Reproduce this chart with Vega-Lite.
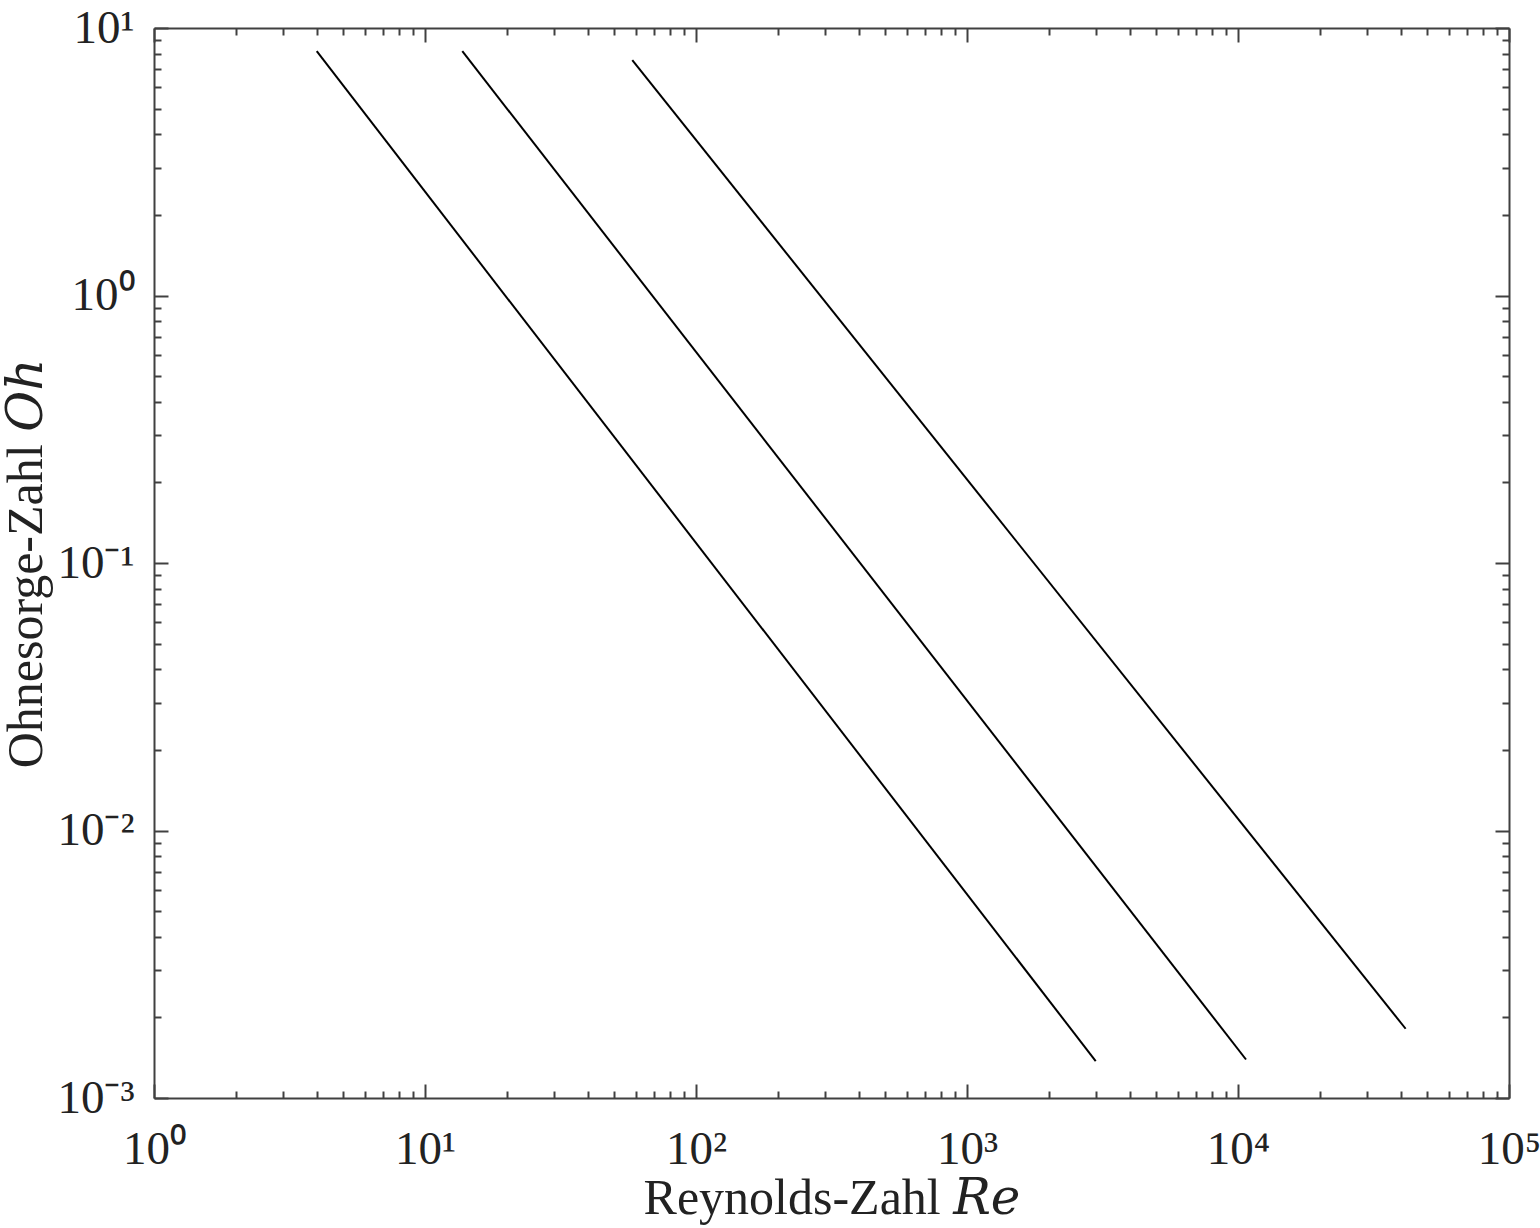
{
  "$schema": "https://vega.github.io/schema/vega-lite/v6.json",
  "autosize": "none",
  "width": 1355,
  "height": 1070,
  "padding": {"left": 154, "top": 28, "right": 31, "bottom": 130},
  "background": "white",
  "data": {
    "values": [
      {"series": "A", "Re": 3.985, "Oh": 8.19},
      {"series": "A", "Re": 2985, "Oh": 0.001374},
      {"series": "B", "Re": 13.73, "Oh": 8.19},
      {"series": "B", "Re": 10703, "Oh": 0.001393},
      {"series": "C", "Re": 58.2, "Oh": 7.58},
      {"series": "C", "Re": 41550, "Oh": 0.001815}
    ]
  },
  "config": {
    "view": {"stroke": null},
    "axis": {
      "grid": false,
      "domainColor": "#404040",
      "domainWidth": 2,
      "tickColor": "#404040",
      "tickWidth": 2,
      "labelFont": "Liberation Serif",
      "labelFontSize": 47,
      "labelColor": "#222222",
      "titleFont": "Liberation Serif, DejaVu Serif",
      "titleFontSize": 50,
      "titleFontWeight": "normal",
      "titleColor": "#222222"
    }
  },
  "resolve": {"axis": {"x": "independent", "y": "independent"}},
  "layer": [
    {
      "mark": {"type": "line", "color": "black", "strokeWidth": 2},
      "encoding": {
        "detail": {"field": "series", "type": "nominal"},
        "x": {
          "field": "Re",
          "type": "quantitative",
          "scale": {"type": "log", "domain": [1, 100000], "nice": false},
          "axis": {
            "orient": "bottom",
            "title": "Reynolds-Zahl 𝑅𝑒",
            "titlePadding": -6,
            "values": [1,2,3,4,5,6,7,8,9,10,20,30,40,50,60,70,80,90,100,200,300,400,500,600,700,800,900,1000,2000,3000,4000,5000,6000,7000,8000,9000,10000,20000,30000,40000,50000,60000,70000,80000,90000,100000],
            "tickSize": {"condition": {"test": "indexof([1,10,100,1000,10000,100000], datum.value) >= 0", "value": -14}, "value": -7},
            "labelPadding": 42,
            "labelFlush": false,
            "labelOverlap": false,
            "labelExpr": "datum.value == 1 ? '10⁰' : datum.value == 10 ? '10¹' : datum.value == 100 ? '10²' : datum.value == 1000 ? '10³' : datum.value == 10000 ? '10⁴' : datum.value == 100000 ? '10⁵' : ''"
          }
        },
        "y": {
          "field": "Oh",
          "type": "quantitative",
          "scale": {"type": "log", "domain": [0.001, 10], "nice": false},
          "axis": {
            "orient": "left",
            "title": "Ohnesorge-Zahl 𝑂ℎ",
            "titlePadding": 5,
            "values": [0.001,0.002,0.003,0.004,0.005,0.006,0.007,0.008,0.009,0.01,0.02,0.03,0.04,0.05,0.06,0.07,0.08,0.09,0.1,0.2,0.3,0.4,0.5,0.6,0.7,0.8,0.9,1,2,3,4,5,6,7,8,9,10],
            "tickSize": {"condition": {"test": "indexof([0.001,0.01,0.1,1,10], datum.value) >= 0", "value": -14}, "value": -7},
            "labelPadding": 34,
            "labelFlush": false,
            "labelOverlap": false,
            "labelExpr": "datum.value == 0.001 ? '10⁻³' : datum.value == 0.01 ? '10⁻²' : datum.value == 0.1 ? '10⁻¹' : datum.value == 1 ? '10⁰' : datum.value == 10 ? '10¹' : ''"
          }
        }
      }
    },
    {
      "mark": {"type": "line", "opacity": 0},
      "encoding": {
        "detail": {"field": "series", "type": "nominal"},
        "x": {
          "field": "Re",
          "type": "quantitative",
          "axis": {
            "orient": "top",
            "title": null,
            "labels": false,
            "values": [1,2,3,4,5,6,7,8,9,10,20,30,40,50,60,70,80,90,100,200,300,400,500,600,700,800,900,1000,2000,3000,4000,5000,6000,7000,8000,9000,10000,20000,30000,40000,50000,60000,70000,80000,90000,100000],
            "tickSize": {"condition": {"test": "indexof([1,10,100,1000,10000,100000], datum.value) >= 0", "value": -14}, "value": -7}
          }
        },
        "y": {
          "field": "Oh",
          "type": "quantitative",
          "axis": {
            "orient": "right",
            "title": null,
            "labels": false,
            "values": [0.001,0.002,0.003,0.004,0.005,0.006,0.007,0.008,0.009,0.01,0.02,0.03,0.04,0.05,0.06,0.07,0.08,0.09,0.1,0.2,0.3,0.4,0.5,0.6,0.7,0.8,0.9,1,2,3,4,5,6,7,8,9,10],
            "tickSize": {"condition": {"test": "indexof([0.001,0.01,0.1,1,10], datum.value) >= 0", "value": -14}, "value": -7}
          }
        }
      }
    }
  ]
}
